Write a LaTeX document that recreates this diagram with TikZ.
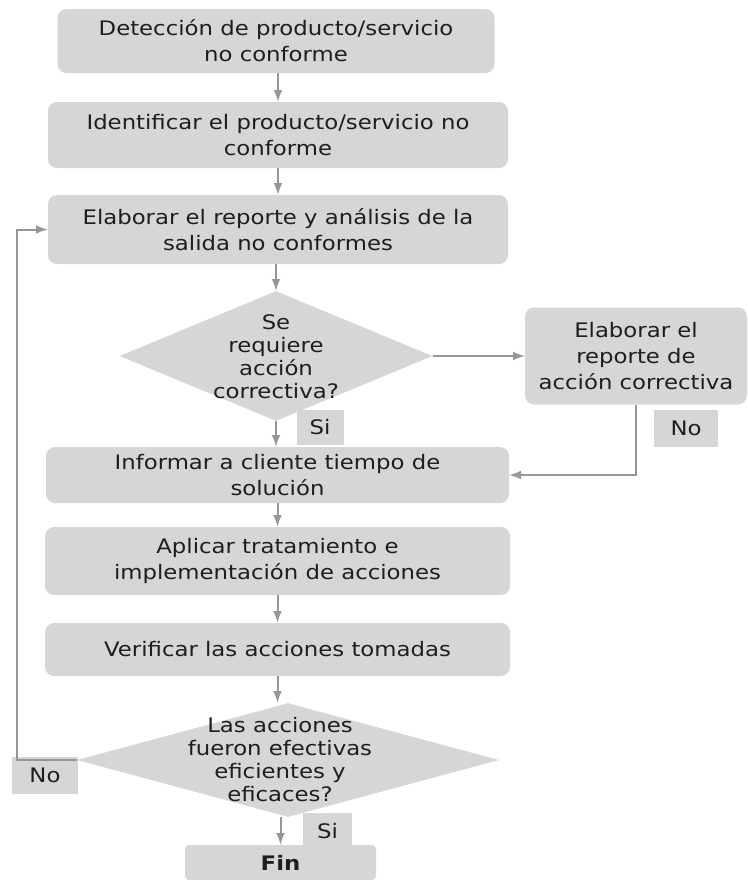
\documentclass[tikz,border=0pt]{standalone}
\usepackage{fontspec}
\setmainfont{DejaVu Sans}[FakeStretch=1.14]
\usetikzlibrary{arrows}
\usetikzlibrary{shapes.geometric}
\definecolor{boxgray}{RGB}{214,214,214}
\definecolor{linegray}{RGB}{150,150,150}
\definecolor{txtgray}{RGB}{30,30,30}
\newlength\px
\setlength\px{0.5pt}

\tikzset{
  procbox/.style={rectangle, rounded corners=9\px, fill=boxgray, inner sep=0pt,
    align=center, text=txtgray, font=\fontsize{10}{13}\selectfont},
  decision/.style={diamond, fill=boxgray, inner sep=0pt},
  qtext/.style={align=center, text=txtgray, font=\fontsize{10}{11.5}\selectfont},
  tag/.style={rectangle, fill=boxgray, inner sep=0pt, text=txtgray,
    font=\fontsize{10}{12}\selectfont},
  flow/.style={draw=linegray, line width=2\px, -latex},
}

\begin{document}
\begin{tikzpicture}[x=\px, y=-\px]

\useasboundingbox (0,0) rectangle (748,880);

%process boxes:
\node[procbox, minimum width=437\px, minimum height=64\px] (detect) at (276,41)
  {Detección de producto/servicio\\no conforme};
\node[procbox, minimum width=460\px, minimum height=66\px] (ident) at (278,135)
  {Identificar el producto/servicio no\\conforme};
\node[procbox, minimum width=460\px, minimum height=69\px] (report) at (278,229.5)
  {Elaborar el reporte  y análisis de la\\salida no conformes};
\node[procbox, minimum width=222\px, minimum height=97\px] (corr) at (636,356)
  {Elaborar el\\reporte de\\acción correctiva};
\node[procbox, minimum width=463\px, minimum height=56\px] (inform) at (277.5,475)
  {Informar a cliente tiempo de\\solución};
\node[procbox, minimum width=465\px, minimum height=68\px] (apply) at (277.5,561)
  {Aplicar tratamiento e\\implementación de acciones};
\node[procbox, minimum width=465\px, minimum height=53\px] (verify) at (277.5,649.5)
  {Verificar las acciones tomadas};
\node[procbox, rounded corners=4\px, minimum width=191\px, minimum height=35\px,
  font=\fontsize{10}{12}\selectfont\bfseries] (fin) at (280.5,862.5) {Fin};

%decisions:
\node[decision, minimum width=313\px, minimum height=130\px] (need) at (276,356) {};
\node[qtext] (needtxt) at (276,357) {Se\\requiere\\acción\\correctiva?};
\node[decision, minimum width=422\px, minimum height=114\px] (eff) at (288,760) {};
\node[qtext] (efftxt) at (280,760) {Las acciones\\fueron efectivas\\eficientes y\\eficaces?};

%answer tags:
\node[tag, minimum width=47\px, minimum height=35\px] (si1) at (320,427) {Si};
\node[tag, minimum width=64\px, minimum height=37\px] (no1) at (686,428) {No};
\node[tag, minimum width=66\px, minimum height=37\px] (no2) at (45,775) {No};
\node[tag, minimum width=49\px, minimum height=37\px] (si2) at (327.5,831) {Si};

\coordinate (back) at (17,0);

%connectors:
\draw[flow] (detect.south -| ident.north) -- (ident.north);
\draw[flow] (ident.south) -- (report.north);
\draw[flow] (report.south -| need.north) -- (need.north);
\draw[flow] (need.south) -- (need.south |- inform.north);
\draw[flow] (need.east) -- (corr.west);
\draw[flow] (corr.south) |- (inform.east);
\draw[flow] (inform.south) -- (apply.north);
\draw[flow] (apply.south) -- (verify.north);
\draw[flow] (verify.south) -- (verify.south |- eff.north);
\draw[flow] (fin.north |- eff.south) -- (fin.north);
\draw[flow] (eff.west) -| (back |- report.west) -- (report.west);

\end{tikzpicture}
\end{document}
